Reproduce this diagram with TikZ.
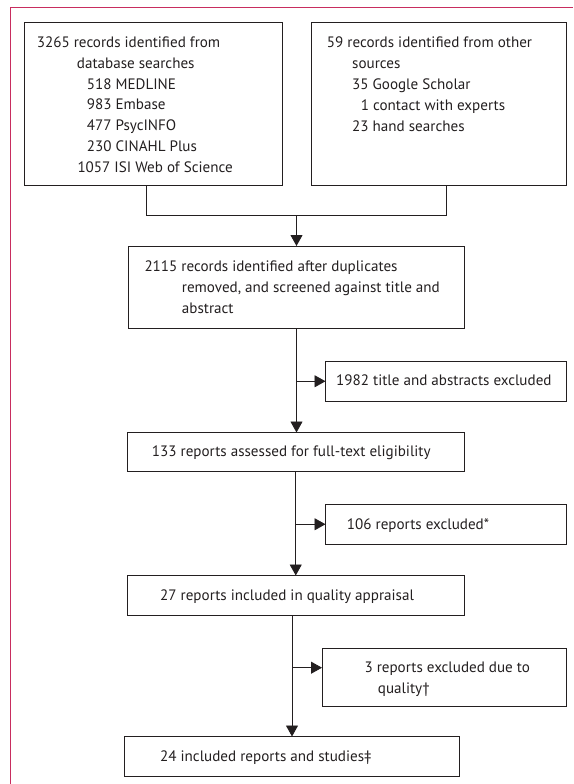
\documentclass[tikz,border=0pt]{standalone}
\usepackage{fontspec}
\setmainfont{PT Sans}
\usetikzlibrary{arrows.meta}
\definecolor{framecol}{RGB}{200,45,95}
\definecolor{ink}{RGB}{35,31,32}
\begin{document}
\begin{tikzpicture}[x=1pt,y=-1pt,
  box/.style={draw=ink,line width=0.9pt,inner sep=0pt,outer sep=0pt},
  txt/.style={anchor=base west,inner sep=0pt,text=ink,font=\fontsize{15.1}{20.8}\selectfont},
  link/.style={draw=ink,line width=0.9pt},
  arr/.style={link,-{Triangle[length=11pt,width=12pt]}}]
\useasboundingbox (0,0) rectangle (573,784);
\draw[framecol,line width=1pt] (10,784) -- (10,7.3) -- (573,7.3);
% boxes
\node[box,minimum width=258pt,minimum height=162.5pt] (b1) at (153,103.75) {};
\node[box,minimum width=255pt,minimum height=162.5pt] (b2) at (439,103.75) {};
\node[box,minimum width=336pt,minimum height=82.5pt] (b3) at (296.5,287.25) {};
\node[box,minimum width=241pt,minimum height=39.5pt] (e1) at (446,381.25) {};
\node[box,minimum width=336.5pt,minimum height=39pt] (b4) at (295.75,452) {};
\node[box,minimum width=241pt,minimum height=39.5pt] (e2) at (446,524.25) {};
\node[box,minimum width=336.5pt,minimum height=39.5pt] (b5) at (295.75,595.25) {};
\node[box,minimum width=244.5pt,minimum height=58.5pt] (e3) at (444.25,677.25) {};
\node[box,minimum width=335.5pt,minimum height=39.5pt] (b6) at (291.75,756.25) {};
% texts
\node[txt] (t1a) at (36.7,47.3) {3265 records identified from};
\node[txt] (t1b) at (76.7,68.1) {database searches};
\node[txt] (t1c) at (86.7,89) {518 MEDLINE};
\node[txt] (t1d) at (86.7,109.8) {983 Embase};
\node[txt] (t1e) at (86.7,130.6) {477 PsycINFO};
\node[txt] (t1f) at (86.7,151.5) {230 CINAHL Plus};
\node[txt] (t1g) at (77.3,172.3) {1057 ISI Web of Science};
\node[txt] (t2a) at (326.7,48) {59 records identified from other};
\node[txt] (t2b) at (352,68.8) {sources};
\node[txt] (t2c) at (352,89.6) {35 Google Scholar};
\node[txt] (t2d) at (360.7,110.4) {1 contact with experts};
\node[txt] (t2e) at (352,131.2) {23 hand searches};
\node[txt] (t3a) at (144.3,271.7) {2115 records identified after duplicates};
\node[txt] (t3b) at (181.7,292.5) {removed, and screened against title and};
\node[txt] (t3c) at (181.7,313.3) {abstract};
\node[txt] (te1) at (336,385.7) {1982 title and abstracts excluded};
\node[txt] (t4) at (151.7,456.7) {133 reports assessed for full-text eligibility};
\node[txt] (te2) at (346.7,529) {106 reports excluded*};
\node[txt] (t5) at (160,600.7) {27 reports included in quality appraisal};
\node[txt] (te3a) at (364.3,672.7) {3 reports excluded due to};
\node[txt] (te3b) at (377.7,693.3) {quality†};
\node[txt] (t6) at (160,761.7) {24 included reports and studies‡};
% connectors
\coordinate (jl) at (146.7,215);
\coordinate (jr) at (446.7,215);
\coordinate (jm) at (296.5,215);
\draw[link] (b1.south -| jl) -- (jl) -- (jr) -- (b2.south -| jr);
\draw[arr] (jm) -- (b3.north);
\draw[arr] (b3.south) -- (b4.north -| b3.south);
\draw[arr] (b3.south |- e1.west) -- (e1.west);
\draw[arr] (b4.south) -- (b5.north -| b4.south);
\draw[arr] (b4.south |- e2.west) -- (e2.west);
\coordinate (k) at (292,615);
\coordinate (kb) at (292,667.7);
\draw[arr] (b5.south -| k) -- (b6.north -| k);
\draw[arr] (kb) -- (e3.west |- kb);
\end{tikzpicture}
\end{document}
